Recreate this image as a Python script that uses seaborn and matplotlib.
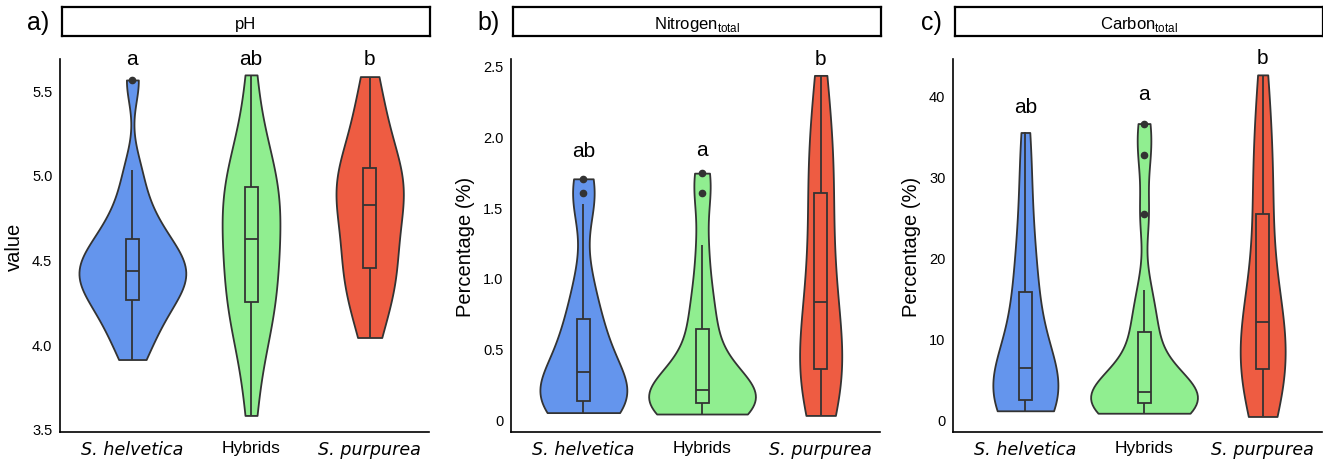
import matplotlib
matplotlib.use("Agg")
import matplotlib.pyplot as plt
import seaborn as sns
import numpy as np
import pandas as pd

sns.set_style("white")
plt.rcParams["font.family"] = ["Liberation Sans", "DejaVu Sans"]
plt.rcParams["mathtext.fontset"] = "custom"
plt.rcParams["mathtext.rm"] = "Liberation Sans"
plt.rcParams["text.color"] = "black"
plt.rcParams["axes.labelcolor"] = "black"

groups = ["S. helvetica", "Hybrids", "S. purpurea"]
colors = ["#6495ED", "#90EE90", "#EE5C42"]

# pH
ph_helvetica = [3.91, 4.02, 4.10, 4.17, 4.22, 4.26, 4.31, 4.35, 4.38, 4.41, 4.43,
                4.46, 4.50, 4.54, 4.58, 4.62, 4.68, 4.76, 4.86, 5.03, 5.56]
ph_hybrids = [3.58, 3.86, 4.02, 4.12, 4.20, 4.25, 4.33, 4.40, 4.48, 4.55, 4.62,
              4.68, 4.75, 4.82, 4.88, 4.93, 4.98, 5.05, 5.15, 5.30, 5.59]
ph_purpurea = [4.04, 4.15, 4.27, 4.35, 4.40, 4.45, 4.52, 4.60, 4.68, 4.76, 4.82,
               4.87, 4.91, 4.95, 4.99, 5.04, 5.10, 5.20, 5.30, 5.42, 5.58]
ph_letters = ["a", "ab", "b"]
ph_letter_y = [5.685, 5.685, 5.685]

# total nitrogen (%)
n_helvetica = [0.05, 0.07, 0.09, 0.11, 0.12, 0.135, 0.16, 0.19, 0.23, 0.28, 0.34,
               0.40, 0.47, 0.55, 0.63, 0.71, 0.85, 1.02, 1.52, 1.60, 1.70]
n_hybrids = [0.04, 0.06, 0.08, 0.09, 0.10, 0.12, 0.14, 0.16, 0.18, 0.19, 0.21,
             0.24, 0.30, 0.40, 0.52, 0.64, 0.78, 0.95, 1.23, 1.60, 1.74]
n_purpurea = [0.03, 0.10, 0.18, 0.25, 0.31, 0.36, 0.42, 0.50, 0.60, 0.72, 0.83,
              0.95, 1.08, 1.25, 1.43, 1.60, 1.72, 1.85, 2.00, 2.20, 2.43]
n_letters = ["ab", "a", "b"]
n_letter_y = [1.90, 1.91, 2.55]

# total carbon (%)
c_helvetica = [1.1, 1.5, 1.8, 2.0, 2.2, 2.4, 3.0, 3.8, 4.6, 5.5, 6.4,
               7.5, 9.0, 11.0, 13.5, 15.7, 18.0, 21.0, 25.0, 30.0, 35.4]
c_hybrids = [0.8, 1.0, 1.3, 1.6, 1.9, 2.1, 2.4, 2.7, 3.0, 3.2, 3.4,
             3.8, 4.5, 6.0, 8.5, 10.8, 12.5, 16.0, 25.3, 32.6, 36.5]
c_purpurea = [0.4, 1.5, 3.0, 4.5, 5.5, 6.3, 7.5, 8.8, 10.0, 11.0, 12.1,
              13.5, 15.5, 18.0, 21.5, 25.4, 28.0, 31.0, 34.0, 38.0, 42.5]
c_letters = ["ab", "a", "b"]
c_letter_y = [38.6, 40.2, 44.6]


def nrd0(kde):
    # R's default bandwidth (bw.nrd0), as used by ggplot's violins
    x = kde.dataset[0]
    sd = np.std(x, ddof=1)
    q75, q25 = np.percentile(x, [75, 25])
    lo = min(sd, (q75 - q25) / 1.34)
    return 0.9 * lo * len(x) ** -0.2 / sd


def long_frame(series):
    rows = []
    for g, vals in zip(groups, series):
        rows += [(g, v) for v in vals]
    return pd.DataFrame(rows, columns=["group", "value"])


panels = [
    dict(tag="a)", strip="pH", ylabel="value",
         series=[ph_helvetica, ph_hybrids, ph_purpurea],
         letters=ph_letters, letter_y=ph_letter_y,
         ylim=(3.4805, 5.685), ticks=[3.5, 4.0, 4.5, 5.0, 5.5],
         ticklabels=["3.5", "4.0", "4.5", "5.0", "5.5"], left=60),
    dict(tag="b)", strip=r"Nitrogen$_{\mathrm{total}}$", ylabel="Percentage (%)",
         series=[n_helvetica, n_hybrids, n_purpurea],
         letters=n_letters, letter_y=n_letter_y,
         ylim=(-0.089, 2.547), ticks=[0, 0.5, 1.0, 1.5, 2.0, 2.5],
         ticklabels=["0", "0.5", "1.0", "1.5", "2.0", "2.5"], left=511),
    dict(tag="c)", strip=r"Carbon$_{\mathrm{total}}$", ylabel="Percentage (%)",
         series=[c_helvetica, c_hybrids, c_purpurea],
         letters=c_letters, letter_y=c_letter_y,
         ylim=(-1.55, 44.48), ticks=[0, 10, 20, 30, 40],
         ticklabels=["0", "10", "20", "30", "40"], left=953),
]

W, H = 1323, 460
fig = plt.figure(figsize=(W / 100, H / 100), dpi=100)
edge = "#333333"

for p in panels:
    df = long_frame(p["series"])
    ax = fig.add_axes([p["left"] / W, 26.7 / H, 369 / W, 373.5 / H])
    sns.violinplot(data=df, x="group", y="value", hue="group", palette=colors,
                   order=groups, hue_order=groups, legend=False,
                   cut=0, inner=None, density_norm="area", common_norm=True,
                   width=0.9, linewidth=1.3, linecolor=edge, bw_method=nrd0,
                   saturation=1, ax=ax)
    sns.boxplot(data=df, x="group", y="value", hue="group", palette=colors,
                order=groups, hue_order=groups, legend=False,
                width=0.11, linewidth=1.3, linecolor=edge, saturation=1,
                fliersize=4.5, showcaps=False,
                flierprops=dict(marker="o", markerfacecolor=edge, markeredgecolor=edge),
                ax=ax)
    for i, (lab, ly) in enumerate(zip(p["letters"], p["letter_y"])):
        ax.text(i, ly, lab, ha="center", va="center", fontsize=15,
                color="black", clip_on=False)

    ax.set_xlim(-0.61, 2.5)
    ax.set_ylim(*p["ylim"])
    ax.set_yticks(p["ticks"])
    ax.set_yticklabels(p["ticklabels"], fontsize=10.5)
    ax.set_xticks(range(3))
    ax.set_xticklabels(groups)
    for t in ax.get_xticklabels():
        if t.get_text().startswith("S."):
            t.set_fontfamily("DejaVu Sans")
            t.set_fontstyle("italic")
            t.set_fontsize(12.6)
        else:
            t.set_fontsize(12.5)
    ax.set_xlabel("")
    ax.set_ylabel(p["ylabel"], fontsize=14.5, labelpad=6, color="black")
    for s in ["top", "right"]:
        ax.spines[s].set_visible(False)
    for s in ["left", "bottom"]:
        ax.spines[s].set_color("black")
        ax.spines[s].set_linewidth(1.2)
    ax.tick_params(axis="both", length=3.5, width=1.0, color=edge,
                   labelcolor="black", pad=2)
    ax.set_facecolor("white")

    sax = fig.add_axes([(p["left"] + 2) / W, 422.7 / H, 368 / W, 29 / H])
    sax.set_xticks([])
    sax.set_yticks([])
    for s in sax.spines.values():
        s.set_color("black")
        s.set_linewidth(1.6)
        s.set_visible(True)
    sax.text(0.5, 0.45, p["strip"], ha="center", va="center", fontsize=12,
             color="black", transform=sax.transAxes)
    fig.text((p["left"] - 22) / W, (H - 23) / H, p["tag"], ha="center",
             va="center", fontsize=18, color="black")

fig.savefig("out.png", dpi=100, facecolor="white")
